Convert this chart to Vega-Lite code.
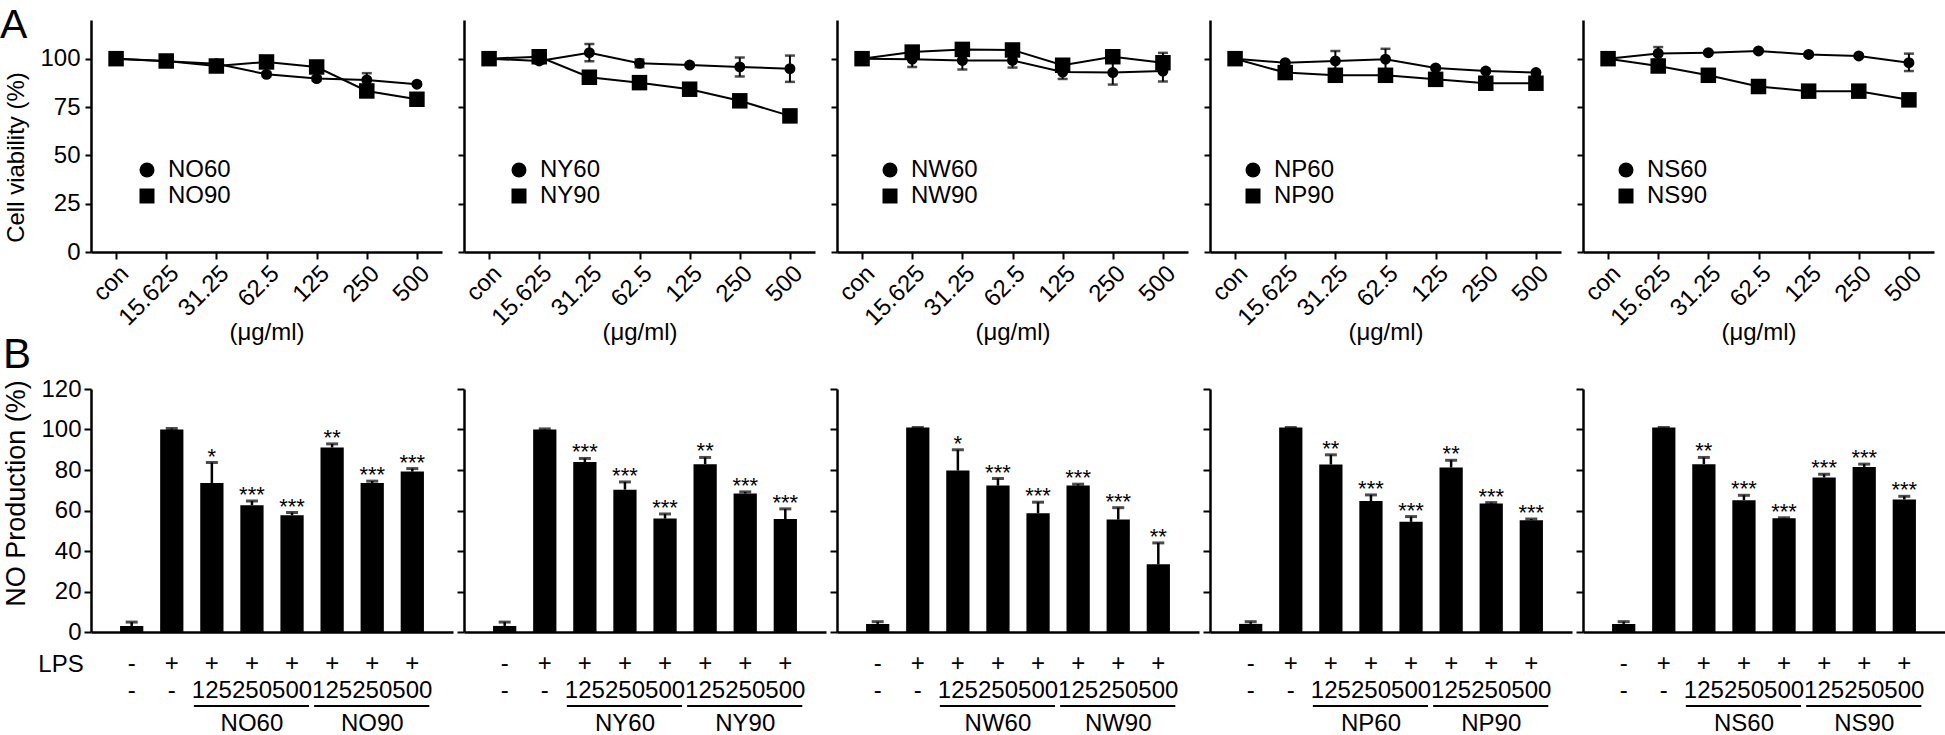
{
"$schema": "https://vega.github.io/schema/vega-lite/v6.json",
"background": "white",
"padding": {"left": 0, "top": 5, "right": 0, "bottom": 0},
"config": {
 "font": "Liberation Sans",
 "view": {"stroke": null},
 "axis": {"domainColor": "black", "domainWidth": 2.5, "tickColor": "black", "tickWidth": 2, "labelColor": "black", "titleColor": "black", "labelFont": "Liberation Sans", "titleFont": "Liberation Sans", "labelFontSize": 24, "titleFontSize": 24, "titleFontWeight": "normal", "grid": false},
 "legend": {"labelFont": "Liberation Sans", "labelFontSize": 24, "labelColor": "black", "symbolSize": 225, "symbolFillColor": "black", "symbolStrokeColor": "black", "symbolStrokeWidth": 0, "rowPadding": 2, "labelOffset": 9, "padding": 0},
 "title": {"font": "Liberation Sans", "fontWeight": "normal", "color": "black"},
 "text": {"font": "Liberation Sans", "color": "black"}
},
"datasets": {
 "top": [
  {"s":"NO","c":"con","r":"NO60","m":100,"lo":99.5,"hi":100.5},
  {"s":"NO","c":"15.625","r":"NO60","m":98.6,"lo":98,"hi":99.2},
  {"s":"NO","c":"31.25","r":"NO60","m":97.4,"lo":96.2,"hi":98.6},
  {"s":"NO","c":"62.5","r":"NO60","m":91.9,"lo":90.8,"hi":93},
  {"s":"NO","c":"125","r":"NO60","m":89.7,"lo":88.7,"hi":90.7},
  {"s":"NO","c":"250","r":"NO60","m":89,"lo":85.5,"hi":92.5},
  {"s":"NO","c":"500","r":"NO60","m":86.8,"lo":86,"hi":87.6},
  {"s":"NO","c":"con","r":"NO90","m":100,"lo":99.5,"hi":100.5},
  {"s":"NO","c":"15.625","r":"NO90","m":98.8,"lo":98.2,"hi":99.4},
  {"s":"NO","c":"31.25","r":"NO90","m":96.2,"lo":95.2,"hi":97.2},
  {"s":"NO","c":"62.5","r":"NO90","m":98.3,"lo":97,"hi":99.6},
  {"s":"NO","c":"125","r":"NO90","m":95.7,"lo":94.2,"hi":97.2},
  {"s":"NO","c":"250","r":"NO90","m":83.3,"lo":81,"hi":85.6},
  {"s":"NO","c":"500","r":"NO90","m":79,"lo":78,"hi":80},
  {"s":"NY","c":"con","r":"NY60","m":100,"lo":99.5,"hi":100.5},
  {"s":"NY","c":"15.625","r":"NY60","m":98.8,"lo":97.6,"hi":100},
  {"s":"NY","c":"31.25","r":"NY60","m":103.1,"lo":98.6,"hi":107.6},
  {"s":"NY","c":"62.5","r":"NY60","m":97.6,"lo":95.6,"hi":99.6},
  {"s":"NY","c":"125","r":"NY60","m":96.7,"lo":96,"hi":97.4},
  {"s":"NY","c":"250","r":"NY60","m":95.7,"lo":90.8,"hi":100.6},
  {"s":"NY","c":"500","r":"NY60","m":94.8,"lo":88,"hi":101.6},
  {"s":"NY","c":"con","r":"NY90","m":100,"lo":99.5,"hi":100.5},
  {"s":"NY","c":"15.625","r":"NY90","m":101,"lo":100,"hi":102},
  {"s":"NY","c":"31.25","r":"NY90","m":90.4,"lo":89.4,"hi":91.4},
  {"s":"NY","c":"62.5","r":"NY90","m":87.6,"lo":86.8,"hi":88.4},
  {"s":"NY","c":"125","r":"NY90","m":84.2,"lo":83.4,"hi":85},
  {"s":"NY","c":"250","r":"NY90","m":78.2,"lo":77.4,"hi":79},
  {"s":"NY","c":"500","r":"NY90","m":70.4,"lo":69.6,"hi":71.2},
  {"s":"NW","c":"con","r":"NW60","m":100,"lo":99.5,"hi":100.5},
  {"s":"NW","c":"15.625","r":"NW60","m":99.7,"lo":95.7,"hi":103.7},
  {"s":"NW","c":"31.25","r":"NW60","m":99.1,"lo":94.4,"hi":103.8},
  {"s":"NW","c":"62.5","r":"NW60","m":99.1,"lo":95.4,"hi":102.8},
  {"s":"NW","c":"125","r":"NW60","m":93.1,"lo":89.5,"hi":96.7},
  {"s":"NW","c":"250","r":"NW60","m":92.8,"lo":86.6,"hi":99},
  {"s":"NW","c":"500","r":"NW60","m":93.6,"lo":88.2,"hi":99},
  {"s":"NW","c":"con","r":"NW90","m":100,"lo":99.5,"hi":100.5},
  {"s":"NW","c":"15.625","r":"NW90","m":103.4,"lo":101.6,"hi":105.2},
  {"s":"NW","c":"31.25","r":"NW90","m":104.8,"lo":103,"hi":106.6},
  {"s":"NW","c":"62.5","r":"NW90","m":104.5,"lo":102.8,"hi":106.2},
  {"s":"NW","c":"125","r":"NW90","m":96.6,"lo":94.6,"hi":98.6},
  {"s":"NW","c":"250","r":"NW90","m":101,"lo":99.8,"hi":102.2},
  {"s":"NW","c":"500","r":"NW90","m":97.9,"lo":93.5,"hi":103},
  {"s":"NP","c":"con","r":"NP60","m":100,"lo":99.5,"hi":100.5},
  {"s":"NP","c":"15.625","r":"NP60","m":97.9,"lo":97.2,"hi":98.6},
  {"s":"NP","c":"31.25","r":"NP60","m":98.8,"lo":93.6,"hi":104},
  {"s":"NP","c":"62.5","r":"NP60","m":99.7,"lo":94.3,"hi":105.1},
  {"s":"NP","c":"125","r":"NP60","m":95.2,"lo":94.4,"hi":96},
  {"s":"NP","c":"250","r":"NP60","m":93.6,"lo":93,"hi":94.2},
  {"s":"NP","c":"500","r":"NP60","m":92.8,"lo":92,"hi":93.6},
  {"s":"NP","c":"con","r":"NP90","m":100,"lo":99.5,"hi":100.5},
  {"s":"NP","c":"15.625","r":"NP90","m":92.8,"lo":92,"hi":93.6},
  {"s":"NP","c":"31.25","r":"NP90","m":91.4,"lo":90.6,"hi":92.2},
  {"s":"NP","c":"62.5","r":"NP90","m":91.4,"lo":90.6,"hi":92.2},
  {"s":"NP","c":"125","r":"NP90","m":89.3,"lo":88.5,"hi":90.1},
  {"s":"NP","c":"250","r":"NP90","m":87.3,"lo":86.5,"hi":88.1},
  {"s":"NP","c":"500","r":"NP90","m":87.3,"lo":86.5,"hi":88.1},
  {"s":"NS","c":"con","r":"NS60","m":100,"lo":99.5,"hi":100.5},
  {"s":"NS","c":"15.625","r":"NS60","m":102.7,"lo":99.5,"hi":106},
  {"s":"NS","c":"31.25","r":"NS60","m":103.1,"lo":102.5,"hi":103.7},
  {"s":"NS","c":"62.5","r":"NS60","m":104,"lo":103.4,"hi":104.6},
  {"s":"NS","c":"125","r":"NS60","m":102.2,"lo":101.6,"hi":102.8},
  {"s":"NS","c":"250","r":"NS60","m":101.4,"lo":100.8,"hi":102},
  {"s":"NS","c":"500","r":"NS60","m":97.9,"lo":93.6,"hi":102.6},
  {"s":"NS","c":"con","r":"NS90","m":100,"lo":99.5,"hi":100.5},
  {"s":"NS","c":"15.625","r":"NS90","m":96.2,"lo":95.4,"hi":97},
  {"s":"NS","c":"31.25","r":"NS90","m":91.4,"lo":90.6,"hi":92.2},
  {"s":"NS","c":"62.5","r":"NS90","m":85.6,"lo":84.8,"hi":86.4},
  {"s":"NS","c":"125","r":"NS90","m":83.2,"lo":82.4,"hi":84},
  {"s":"NS","c":"250","r":"NS90","m":83.2,"lo":82.4,"hi":84},
  {"s":"NS","c":"500","r":"NS90","m":78.7,"lo":77.9,"hi":79.5}
 ],
 "bottom": [
  {"s":"NO","k":"1|-|-","m":3.0,"hi":4.9,"sig":""},
  {"s":"NO","k":"2|+|-","m":100,"hi":100.5,"sig":""},
  {"s":"NO","k":"3|+|125","m":73.6,"hi":83.7,"sig":"*"},
  {"s":"NO","k":"4|+|250","m":62.6,"hi":64.7,"sig":"***"},
  {"s":"NO","k":"5|+|500","m":57.7,"hi":59,"sig":"***"},
  {"s":"NO","k":"6|+|125","m":91.1,"hi":92.9,"sig":"**"},
  {"s":"NO","k":"7|+|250","m":73.6,"hi":74.5,"sig":"***"},
  {"s":"NO","k":"8|+|500","m":79.2,"hi":80.7,"sig":"***"},
  {"s":"NY","k":"1|-|-","m":3.0,"hi":4.9,"sig":""},
  {"s":"NY","k":"2|+|-","m":100,"hi":100.3,"sig":""},
  {"s":"NY","k":"3|+|125","m":83.9,"hi":85.7,"sig":"***"},
  {"s":"NY","k":"4|+|250","m":70.3,"hi":74.1,"sig":"***"},
  {"s":"NY","k":"5|+|500","m":56,"hi":58.3,"sig":"***"},
  {"s":"NY","k":"6|+|125","m":82.9,"hi":86.2,"sig":"**"},
  {"s":"NY","k":"7|+|250","m":68.4,"hi":69.2,"sig":"***"},
  {"s":"NY","k":"8|+|500","m":55.8,"hi":60.8,"sig":"***"},
  {"s":"NW","k":"1|-|-","m":4,"hi":5.1,"sig":""},
  {"s":"NW","k":"2|+|-","m":101,"hi":101,"sig":""},
  {"s":"NW","k":"3|+|125","m":79.7,"hi":90,"sig":"*"},
  {"s":"NW","k":"4|+|250","m":72.3,"hi":75.8,"sig":"***"},
  {"s":"NW","k":"5|+|500","m":58.6,"hi":64.1,"sig":"***"},
  {"s":"NW","k":"6|+|125","m":72.3,"hi":73,"sig":"***"},
  {"s":"NW","k":"7|+|250","m":55.5,"hi":61.4,"sig":"***"},
  {"s":"NW","k":"8|+|500","m":33.4,"hi":44,"sig":"**"},
  {"s":"NP","k":"1|-|-","m":4,"hi":5.1,"sig":""},
  {"s":"NP","k":"2|+|-","m":101,"hi":101,"sig":""},
  {"s":"NP","k":"3|+|125","m":82.7,"hi":87.5,"sig":"**"},
  {"s":"NP","k":"4|+|250","m":64.7,"hi":67.7,"sig":"***"},
  {"s":"NP","k":"5|+|500","m":54.4,"hi":57,"sig":"***"},
  {"s":"NP","k":"6|+|125","m":81.2,"hi":84.8,"sig":"**"},
  {"s":"NP","k":"7|+|250","m":63.4,"hi":63.9,"sig":"***"},
  {"s":"NP","k":"8|+|500","m":55.2,"hi":55.8,"sig":"***"},
  {"s":"NS","k":"1|-|-","m":4,"hi":5.1,"sig":""},
  {"s":"NS","k":"2|+|-","m":101,"hi":101,"sig":""},
  {"s":"NS","k":"3|+|125","m":82.9,"hi":86.2,"sig":"**"},
  {"s":"NS","k":"4|+|250","m":65.1,"hi":67.5,"sig":"***"},
  {"s":"NS","k":"5|+|500","m":56.2,"hi":56.4,"sig":"***"},
  {"s":"NS","k":"6|+|125","m":76.3,"hi":77.9,"sig":"***"},
  {"s":"NS","k":"7|+|250","m":81.5,"hi":82.9,"sig":"***"},
  {"s":"NS","k":"8|+|500","m":65.4,"hi":67,"sig":"***"}
 ],
 "groups": [
  {"s":"NO","g":"NO60","from":"3|+|125","mid":"4|+|250","to":"5|+|500"},
  {"s":"NO","g":"NO90","from":"6|+|125","mid":"7|+|250","to":"8|+|500"},
  {"s":"NY","g":"NY60","from":"3|+|125","mid":"4|+|250","to":"5|+|500"},
  {"s":"NY","g":"NY90","from":"6|+|125","mid":"7|+|250","to":"8|+|500"},
  {"s":"NW","g":"NW60","from":"3|+|125","mid":"4|+|250","to":"5|+|500"},
  {"s":"NW","g":"NW90","from":"6|+|125","mid":"7|+|250","to":"8|+|500"},
  {"s":"NP","g":"NP60","from":"3|+|125","mid":"4|+|250","to":"5|+|500"},
  {"s":"NP","g":"NP90","from":"6|+|125","mid":"7|+|250","to":"8|+|500"},
  {"s":"NS","g":"NS60","from":"3|+|125","mid":"4|+|250","to":"5|+|500"},
  {"s":"NS","g":"NS90","from":"6|+|125","mid":"7|+|250","to":"8|+|500"}
 ]
},
"columns": 5,
"align": "each",
"bounds": "flush",
"spacing": {"row": 137, "column": 11},
"resolve": {"scale": {"shape": "independent"}, "legend": {"shape": "independent"}},
"concat": [
   {
    "title": {"text": "A", "anchor": "start", "frame": "group", "fontSize": 41, "offset": 0, "dx": -91, "dy": 59, "baseline": "alphabetic"},
    "width": 351, "height": 232,
    "data": {"name": "top"},
    "transform": [{"filter": "datum.s === 'NO'"}],
    "encoding": {"x": {"field": "c", "type": "ordinal", "title": "(μg/ml)", "scale": {"type": "point", "domain": ["con","15.625","31.25","62.5","125","250","500"], "padding": 0.5}, "axis": {"labelAngle": -45, "tickSize": 7, "labelPadding": 2, "titleY": 80, "titleBaseline": "middle"}}},
    "layer": [
     {"mark": {"type": "line", "color": "black", "strokeWidth": 2}, "encoding": {"y": {"field": "m", "type": "quantitative", "title": "Cell viability (%)", "scale": {"domain": [0, 120], "nice": false}, "axis": {"values": [0,25,50,75,100], "tickSize": 6, "labelPadding": 5, "titleX": -75, "titleY": 137, "titleAngle": -90, "titleAlign": "center", "titleBaseline": "middle", "titleFontSize": 24}}, "detail": {"field": "r"}}},
     {"mark": {"type": "rule", "color": "black", "strokeWidth": 2}, "encoding": {"y": {"field": "lo", "type": "quantitative", "title": "Cell viability (%)"}, "y2": {"field": "hi"}}},
     {"mark": {"type": "tick", "color": "black", "size": 10, "thickness": 2.5}, "encoding": {"y": {"field": "lo", "type": "quantitative", "title": "Cell viability (%)"}}},
     {"mark": {"type": "tick", "color": "black", "size": 10, "thickness": 2.5}, "encoding": {"y": {"field": "hi", "type": "quantitative", "title": "Cell viability (%)"}}},
     {"transform": [{"filter": "slice(datum.r, 2) === '60'"}], "mark": {"type": "point", "filled": true, "color": "black", "opacity": 1, "size": 120}, "encoding": {"y": {"field": "m", "type": "quantitative", "title": "Cell viability (%)"}, "shape": {"field": "r", "type": "nominal", "scale": {"range": ["circle", "square"]}, "legend": {"title": null, "orient": "none", "legendX": 44, "legendY": 138}}}},
     {"transform": [{"filter": "slice(datum.r, 2) === '90'"}], "mark": {"type": "point", "filled": true, "color": "black", "opacity": 1, "size": 240}, "encoding": {"y": {"field": "m", "type": "quantitative", "title": "Cell viability (%)"}, "shape": {"field": "r", "type": "nominal", "legend": {"title": null, "orient": "none", "legendX": 44, "legendY": 138}}}}
    ]
   },
   {
    "width": 351, "height": 232,
    "data": {"name": "top"},
    "transform": [{"filter": "datum.s === 'NY'"}],
    "encoding": {"x": {"field": "c", "type": "ordinal", "title": "(μg/ml)", "scale": {"type": "point", "domain": ["con","15.625","31.25","62.5","125","250","500"], "padding": 0.5}, "axis": {"labelAngle": -45, "tickSize": 7, "labelPadding": 2, "titleY": 80, "titleBaseline": "middle"}}},
    "layer": [
     {"mark": {"type": "line", "color": "black", "strokeWidth": 2}, "encoding": {"y": {"field": "m", "type": "quantitative", "title": null, "scale": {"domain": [0, 120], "nice": false}, "axis": {"values": [0,25,50,75,100], "tickSize": 6, "labels": false}}, "detail": {"field": "r"}}},
     {"mark": {"type": "rule", "color": "black", "strokeWidth": 2}, "encoding": {"y": {"field": "lo", "type": "quantitative", "title": null}, "y2": {"field": "hi"}}},
     {"mark": {"type": "tick", "color": "black", "size": 10, "thickness": 2.5}, "encoding": {"y": {"field": "lo", "type": "quantitative", "title": null}}},
     {"mark": {"type": "tick", "color": "black", "size": 10, "thickness": 2.5}, "encoding": {"y": {"field": "hi", "type": "quantitative", "title": null}}},
     {"transform": [{"filter": "slice(datum.r, 2) === '60'"}], "mark": {"type": "point", "filled": true, "color": "black", "opacity": 1, "size": 120}, "encoding": {"y": {"field": "m", "type": "quantitative", "title": null}, "shape": {"field": "r", "type": "nominal", "scale": {"range": ["circle", "square"]}, "legend": {"title": null, "orient": "none", "legendX": 43, "legendY": 138}}}},
     {"transform": [{"filter": "slice(datum.r, 2) === '90'"}], "mark": {"type": "point", "filled": true, "color": "black", "opacity": 1, "size": 240}, "encoding": {"y": {"field": "m", "type": "quantitative", "title": null}, "shape": {"field": "r", "type": "nominal", "legend": {"title": null, "orient": "none", "legendX": 43, "legendY": 138}}}}
    ]
   },
   {
    "width": 351, "height": 232,
    "data": {"name": "top"},
    "transform": [{"filter": "datum.s === 'NW'"}],
    "encoding": {"x": {"field": "c", "type": "ordinal", "title": "(μg/ml)", "scale": {"type": "point", "domain": ["con","15.625","31.25","62.5","125","250","500"], "padding": 0.5}, "axis": {"labelAngle": -45, "tickSize": 7, "labelPadding": 2, "titleY": 80, "titleBaseline": "middle"}}},
    "layer": [
     {"mark": {"type": "line", "color": "black", "strokeWidth": 2}, "encoding": {"y": {"field": "m", "type": "quantitative", "title": null, "scale": {"domain": [0, 120], "nice": false}, "axis": {"values": [0,25,50,75,100], "tickSize": 6, "labels": false}}, "detail": {"field": "r"}}},
     {"mark": {"type": "rule", "color": "black", "strokeWidth": 2}, "encoding": {"y": {"field": "lo", "type": "quantitative", "title": null}, "y2": {"field": "hi"}}},
     {"mark": {"type": "tick", "color": "black", "size": 10, "thickness": 2.5}, "encoding": {"y": {"field": "lo", "type": "quantitative", "title": null}}},
     {"mark": {"type": "tick", "color": "black", "size": 10, "thickness": 2.5}, "encoding": {"y": {"field": "hi", "type": "quantitative", "title": null}}},
     {"transform": [{"filter": "slice(datum.r, 2) === '60'"}], "mark": {"type": "point", "filled": true, "color": "black", "opacity": 1, "size": 120}, "encoding": {"y": {"field": "m", "type": "quantitative", "title": null}, "shape": {"field": "r", "type": "nominal", "scale": {"range": ["circle", "square"]}, "legend": {"title": null, "orient": "none", "legendX": 41, "legendY": 138}}}},
     {"transform": [{"filter": "slice(datum.r, 2) === '90'"}], "mark": {"type": "point", "filled": true, "color": "black", "opacity": 1, "size": 240}, "encoding": {"y": {"field": "m", "type": "quantitative", "title": null}, "shape": {"field": "r", "type": "nominal", "legend": {"title": null, "orient": "none", "legendX": 41, "legendY": 138}}}}
    ]
   },
   {
    "width": 351, "height": 232,
    "data": {"name": "top"},
    "transform": [{"filter": "datum.s === 'NP'"}],
    "encoding": {"x": {"field": "c", "type": "ordinal", "title": "(μg/ml)", "scale": {"type": "point", "domain": ["con","15.625","31.25","62.5","125","250","500"], "padding": 0.5}, "axis": {"labelAngle": -45, "tickSize": 7, "labelPadding": 2, "titleY": 80, "titleBaseline": "middle"}}},
    "layer": [
     {"mark": {"type": "line", "color": "black", "strokeWidth": 2}, "encoding": {"y": {"field": "m", "type": "quantitative", "title": null, "scale": {"domain": [0, 120], "nice": false}, "axis": {"values": [0,25,50,75,100], "tickSize": 6, "labels": false}}, "detail": {"field": "r"}}},
     {"mark": {"type": "rule", "color": "black", "strokeWidth": 2}, "encoding": {"y": {"field": "lo", "type": "quantitative", "title": null}, "y2": {"field": "hi"}}},
     {"mark": {"type": "tick", "color": "black", "size": 10, "thickness": 2.5}, "encoding": {"y": {"field": "lo", "type": "quantitative", "title": null}}},
     {"mark": {"type": "tick", "color": "black", "size": 10, "thickness": 2.5}, "encoding": {"y": {"field": "hi", "type": "quantitative", "title": null}}},
     {"transform": [{"filter": "slice(datum.r, 2) === '60'"}], "mark": {"type": "point", "filled": true, "color": "black", "opacity": 1, "size": 120}, "encoding": {"y": {"field": "m", "type": "quantitative", "title": null}, "shape": {"field": "r", "type": "nominal", "scale": {"range": ["circle", "square"]}, "legend": {"title": null, "orient": "none", "legendX": 31, "legendY": 138}}}},
     {"transform": [{"filter": "slice(datum.r, 2) === '90'"}], "mark": {"type": "point", "filled": true, "color": "black", "opacity": 1, "size": 240}, "encoding": {"y": {"field": "m", "type": "quantitative", "title": null}, "shape": {"field": "r", "type": "nominal", "legend": {"title": null, "orient": "none", "legendX": 31, "legendY": 138}}}}
    ]
   },
   {
    "width": 351, "height": 232,
    "data": {"name": "top"},
    "transform": [{"filter": "datum.s === 'NS'"}],
    "encoding": {"x": {"field": "c", "type": "ordinal", "title": "(μg/ml)", "scale": {"type": "point", "domain": ["con","15.625","31.25","62.5","125","250","500"], "padding": 0.5}, "axis": {"labelAngle": -45, "tickSize": 7, "labelPadding": 2, "titleY": 80, "titleBaseline": "middle"}}},
    "layer": [
     {"mark": {"type": "line", "color": "black", "strokeWidth": 2}, "encoding": {"y": {"field": "m", "type": "quantitative", "title": null, "scale": {"domain": [0, 120], "nice": false}, "axis": {"values": [0,25,50,75,100], "tickSize": 6, "labels": false}}, "detail": {"field": "r"}}},
     {"mark": {"type": "rule", "color": "black", "strokeWidth": 2}, "encoding": {"y": {"field": "lo", "type": "quantitative", "title": null}, "y2": {"field": "hi"}}},
     {"mark": {"type": "tick", "color": "black", "size": 10, "thickness": 2.5}, "encoding": {"y": {"field": "lo", "type": "quantitative", "title": null}}},
     {"mark": {"type": "tick", "color": "black", "size": 10, "thickness": 2.5}, "encoding": {"y": {"field": "hi", "type": "quantitative", "title": null}}},
     {"transform": [{"filter": "slice(datum.r, 2) === '60'"}], "mark": {"type": "point", "filled": true, "color": "black", "opacity": 1, "size": 120}, "encoding": {"y": {"field": "m", "type": "quantitative", "title": null}, "shape": {"field": "r", "type": "nominal", "scale": {"range": ["circle", "square"]}, "legend": {"title": null, "orient": "none", "legendX": 31, "legendY": 138}}}},
     {"transform": [{"filter": "slice(datum.r, 2) === '90'"}], "mark": {"type": "point", "filled": true, "color": "black", "opacity": 1, "size": 240}, "encoding": {"y": {"field": "m", "type": "quantitative", "title": null}, "shape": {"field": "r", "type": "nominal", "legend": {"title": null, "orient": "none", "legendX": 31, "legendY": 138}}}}
    ]
   },
   {
    "title": {"text": "B", "anchor": "start", "frame": "group", "fontSize": 42, "offset": 0, "dx": -88, "dy": 33, "baseline": "alphabetic"},
    "width": 362, "height": 243,
    "layer": [
     {
      "data": {"name": "bottom"},
      "transform": [{"filter": "datum.s === 'NO'"}],
      "layer": [
       {"mark": {"type": "bar", "color": "black"}, "encoding": {"x": {"field": "k", "type": "nominal", "title": "LPS", "scale": {"paddingInner": 0.42, "paddingOuter": 0.725}, "axis": {"ticks": false, "labelAngle": 0, "labelPadding": 19, "labelLineHeight": 27, "labelExpr": "slice(split(datum.value,'|'),1,3)", "labelOverlap": false, "labelBound": false, "labelFlush": false, "labelBaseline": "top", "titleX": -30.5, "titleY": 32, "titleBaseline": "middle", "titleAlign": "center"}}, "y": {"field": "m", "type": "quantitative", "title": "NO Production (%)", "scale": {"domain": [0, 120], "nice": false}, "axis": {"values": [0,20,40,60,80,100,120], "tickSize": 7, "labelPadding": 3, "titleX": -75, "titleY": 104, "titleAngle": -90, "titleAlign": "center", "titleBaseline": "middle", "titleFontSize": 27}}}},
       {"mark": {"type": "rule", "color": "black", "strokeWidth": 2.5}, "encoding": {"x": {"field": "k", "type": "nominal", "title": "LPS"}, "y": {"field": "m", "type": "quantitative", "title": "NO Production (%)"}, "y2": {"field": "hi"}}},
       {"mark": {"type": "tick", "color": "black", "size": 12, "thickness": 3}, "encoding": {"x": {"field": "k", "type": "nominal", "title": "LPS"}, "y": {"field": "hi", "type": "quantitative", "title": "NO Production (%)"}}},
       {"mark": {"type": "text", "fontSize": 22, "baseline": "alphabetic", "dy": 1}, "encoding": {"x": {"field": "k", "type": "nominal", "title": "LPS"}, "y": {"field": "hi", "type": "quantitative", "title": "NO Production (%)"}, "text": {"field": "sig"}}}
      ]
     },
     {
      "data": {"name": "groups"},
      "transform": [{"filter": "datum.s === 'NO'"}],
      "layer": [
       {"mark": {"type": "rule", "color": "black", "strokeWidth": 2, "xOffset": -18, "x2Offset": 17}, "encoding": {"x": {"field": "from", "type": "nominal", "title": "LPS"}, "x2": {"field": "to"}, "y": {"datum": -36.5, "type": "quantitative", "title": "NO Production (%)"}}},
       {"mark": {"type": "text", "fontSize": 24, "baseline": "middle"}, "encoding": {"x": {"field": "mid", "type": "nominal", "title": "LPS"}, "y": {"datum": -45.4, "type": "quantitative", "title": "NO Production (%)"}, "text": {"field": "g"}}}
      ]
     }
    ]
   },
   {
    "width": 362, "height": 243,
    "layer": [
     {
      "data": {"name": "bottom"},
      "transform": [{"filter": "datum.s === 'NY'"}],
      "layer": [
       {"mark": {"type": "bar", "color": "black"}, "encoding": {"x": {"field": "k", "type": "nominal", "title": null, "scale": {"paddingInner": 0.42, "paddingOuter": 0.725}, "axis": {"ticks": false, "labelAngle": 0, "labelPadding": 19, "labelLineHeight": 27, "labelExpr": "slice(split(datum.value,'|'),1,3)", "labelOverlap": false, "labelBound": false, "labelFlush": false, "labelBaseline": "top"}}, "y": {"field": "m", "type": "quantitative", "title": null, "scale": {"domain": [0, 120], "nice": false}, "axis": {"values": [0,20,40,60,80,100,120], "tickSize": 7, "labels": false}}}},
       {"mark": {"type": "rule", "color": "black", "strokeWidth": 2.5}, "encoding": {"x": {"field": "k", "type": "nominal", "title": null}, "y": {"field": "m", "type": "quantitative", "title": null}, "y2": {"field": "hi"}}},
       {"mark": {"type": "tick", "color": "black", "size": 12, "thickness": 3}, "encoding": {"x": {"field": "k", "type": "nominal", "title": null}, "y": {"field": "hi", "type": "quantitative", "title": null}}},
       {"mark": {"type": "text", "fontSize": 22, "baseline": "alphabetic", "dy": 1}, "encoding": {"x": {"field": "k", "type": "nominal", "title": null}, "y": {"field": "hi", "type": "quantitative", "title": null}, "text": {"field": "sig"}}}
      ]
     },
     {
      "data": {"name": "groups"},
      "transform": [{"filter": "datum.s === 'NY'"}],
      "layer": [
       {"mark": {"type": "rule", "color": "black", "strokeWidth": 2, "xOffset": -18, "x2Offset": 17}, "encoding": {"x": {"field": "from", "type": "nominal", "title": null}, "x2": {"field": "to"}, "y": {"datum": -36.5, "type": "quantitative", "title": null}}},
       {"mark": {"type": "text", "fontSize": 24, "baseline": "middle"}, "encoding": {"x": {"field": "mid", "type": "nominal", "title": null}, "y": {"datum": -45.4, "type": "quantitative", "title": null}, "text": {"field": "g"}}}
      ]
     }
    ]
   },
   {
    "width": 362, "height": 243,
    "layer": [
     {
      "data": {"name": "bottom"},
      "transform": [{"filter": "datum.s === 'NW'"}],
      "layer": [
       {"mark": {"type": "bar", "color": "black"}, "encoding": {"x": {"field": "k", "type": "nominal", "title": null, "scale": {"paddingInner": 0.42, "paddingOuter": 0.725}, "axis": {"ticks": false, "labelAngle": 0, "labelPadding": 19, "labelLineHeight": 27, "labelExpr": "slice(split(datum.value,'|'),1,3)", "labelOverlap": false, "labelBound": false, "labelFlush": false, "labelBaseline": "top"}}, "y": {"field": "m", "type": "quantitative", "title": null, "scale": {"domain": [0, 120], "nice": false}, "axis": {"values": [0,20,40,60,80,100,120], "tickSize": 7, "labels": false}}}},
       {"mark": {"type": "rule", "color": "black", "strokeWidth": 2.5}, "encoding": {"x": {"field": "k", "type": "nominal", "title": null}, "y": {"field": "m", "type": "quantitative", "title": null}, "y2": {"field": "hi"}}},
       {"mark": {"type": "tick", "color": "black", "size": 12, "thickness": 3}, "encoding": {"x": {"field": "k", "type": "nominal", "title": null}, "y": {"field": "hi", "type": "quantitative", "title": null}}},
       {"mark": {"type": "text", "fontSize": 22, "baseline": "alphabetic", "dy": 1}, "encoding": {"x": {"field": "k", "type": "nominal", "title": null}, "y": {"field": "hi", "type": "quantitative", "title": null}, "text": {"field": "sig"}}}
      ]
     },
     {
      "data": {"name": "groups"},
      "transform": [{"filter": "datum.s === 'NW'"}],
      "layer": [
       {"mark": {"type": "rule", "color": "black", "strokeWidth": 2, "xOffset": -18, "x2Offset": 17}, "encoding": {"x": {"field": "from", "type": "nominal", "title": null}, "x2": {"field": "to"}, "y": {"datum": -36.5, "type": "quantitative", "title": null}}},
       {"mark": {"type": "text", "fontSize": 24, "baseline": "middle"}, "encoding": {"x": {"field": "mid", "type": "nominal", "title": null}, "y": {"datum": -45.4, "type": "quantitative", "title": null}, "text": {"field": "g"}}}
      ]
     }
    ]
   },
   {
    "width": 362, "height": 243,
    "layer": [
     {
      "data": {"name": "bottom"},
      "transform": [{"filter": "datum.s === 'NP'"}],
      "layer": [
       {"mark": {"type": "bar", "color": "black"}, "encoding": {"x": {"field": "k", "type": "nominal", "title": null, "scale": {"paddingInner": 0.42, "paddingOuter": 0.725}, "axis": {"ticks": false, "labelAngle": 0, "labelPadding": 19, "labelLineHeight": 27, "labelExpr": "slice(split(datum.value,'|'),1,3)", "labelOverlap": false, "labelBound": false, "labelFlush": false, "labelBaseline": "top"}}, "y": {"field": "m", "type": "quantitative", "title": null, "scale": {"domain": [0, 120], "nice": false}, "axis": {"values": [0,20,40,60,80,100,120], "tickSize": 7, "labels": false}}}},
       {"mark": {"type": "rule", "color": "black", "strokeWidth": 2.5}, "encoding": {"x": {"field": "k", "type": "nominal", "title": null}, "y": {"field": "m", "type": "quantitative", "title": null}, "y2": {"field": "hi"}}},
       {"mark": {"type": "tick", "color": "black", "size": 12, "thickness": 3}, "encoding": {"x": {"field": "k", "type": "nominal", "title": null}, "y": {"field": "hi", "type": "quantitative", "title": null}}},
       {"mark": {"type": "text", "fontSize": 22, "baseline": "alphabetic", "dy": 1}, "encoding": {"x": {"field": "k", "type": "nominal", "title": null}, "y": {"field": "hi", "type": "quantitative", "title": null}, "text": {"field": "sig"}}}
      ]
     },
     {
      "data": {"name": "groups"},
      "transform": [{"filter": "datum.s === 'NP'"}],
      "layer": [
       {"mark": {"type": "rule", "color": "black", "strokeWidth": 2, "xOffset": -18, "x2Offset": 17}, "encoding": {"x": {"field": "from", "type": "nominal", "title": null}, "x2": {"field": "to"}, "y": {"datum": -36.5, "type": "quantitative", "title": null}}},
       {"mark": {"type": "text", "fontSize": 24, "baseline": "middle"}, "encoding": {"x": {"field": "mid", "type": "nominal", "title": null}, "y": {"datum": -45.4, "type": "quantitative", "title": null}, "text": {"field": "g"}}}
      ]
     }
    ]
   },
   {
    "width": 362, "height": 243,
    "layer": [
     {
      "data": {"name": "bottom"},
      "transform": [{"filter": "datum.s === 'NS'"}],
      "layer": [
       {"mark": {"type": "bar", "color": "black"}, "encoding": {"x": {"field": "k", "type": "nominal", "title": null, "scale": {"paddingInner": 0.42, "paddingOuter": 0.725}, "axis": {"ticks": false, "labelAngle": 0, "labelPadding": 19, "labelLineHeight": 27, "labelExpr": "slice(split(datum.value,'|'),1,3)", "labelOverlap": false, "labelBound": false, "labelFlush": false, "labelBaseline": "top"}}, "y": {"field": "m", "type": "quantitative", "title": null, "scale": {"domain": [0, 120], "nice": false}, "axis": {"values": [0,20,40,60,80,100,120], "tickSize": 7, "labels": false}}}},
       {"mark": {"type": "rule", "color": "black", "strokeWidth": 2.5}, "encoding": {"x": {"field": "k", "type": "nominal", "title": null}, "y": {"field": "m", "type": "quantitative", "title": null}, "y2": {"field": "hi"}}},
       {"mark": {"type": "tick", "color": "black", "size": 12, "thickness": 3}, "encoding": {"x": {"field": "k", "type": "nominal", "title": null}, "y": {"field": "hi", "type": "quantitative", "title": null}}},
       {"mark": {"type": "text", "fontSize": 22, "baseline": "alphabetic", "dy": 1}, "encoding": {"x": {"field": "k", "type": "nominal", "title": null}, "y": {"field": "hi", "type": "quantitative", "title": null}, "text": {"field": "sig"}}}
      ]
     },
     {
      "data": {"name": "groups"},
      "transform": [{"filter": "datum.s === 'NS'"}],
      "layer": [
       {"mark": {"type": "rule", "color": "black", "strokeWidth": 2, "xOffset": -18, "x2Offset": 17}, "encoding": {"x": {"field": "from", "type": "nominal", "title": null}, "x2": {"field": "to"}, "y": {"datum": -36.5, "type": "quantitative", "title": null}}},
       {"mark": {"type": "text", "fontSize": 24, "baseline": "middle"}, "encoding": {"x": {"field": "mid", "type": "nominal", "title": null}, "y": {"datum": -45.4, "type": "quantitative", "title": null}, "text": {"field": "g"}}}
      ]
     }
    ]
   }
]
}
